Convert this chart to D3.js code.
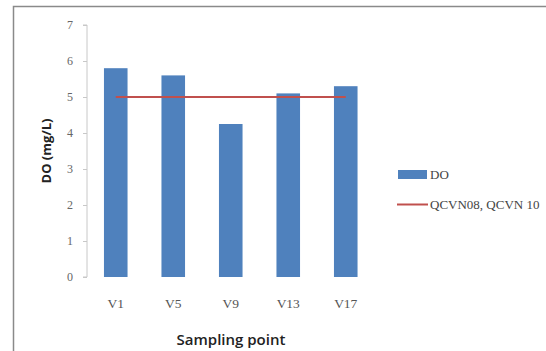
<!DOCTYPE html>
<html><head><meta charset="utf-8">
<script src="https://cdn.jsdelivr.net/npm/d3@7"></script>
<style>body{margin:0;background:#fff}svg{display:block}</style>
</head><body>
<svg id="c" width="546" height="351"></svg>
<script>
const categories = ["V1","V5","V9","V13","V17"];
const doValues = [5.8, 5.6, 4.25, 5.1, 5.3];
const standardValue = 5;
const yTicks = [0,1,2,3,4,5,6,7];
const seriesNames = ["DO","QCVN08, QCVN 10"];

const svg = d3.select("#c");
svg.append("path").attr("d","M13.5,351 V6.5 H546").attr("fill","none").attr("stroke","#8a8a8a").attr("stroke-width",1.5);

const x0 = 87, x1 = 374.5, yTop = 25, yBot = 277;
const x = d3.scaleBand().domain(categories).range([x0,x1]).paddingInner(0.59).paddingOuter(0.295);
const y = d3.scaleLinear().domain([0,7]).range([yBot,yTop]);

const yAxis = d3.axisLeft(y).tickValues(yTicks).tickSize(4).tickPadding(10).tickFormat(d3.format("d"));
const ga = svg.append("g").attr("transform",`translate(${x0},0)`).call(yAxis);
ga.select(".domain").attr("stroke","#c8c8c8").attr("d",`M-4,${yTop}H0V${yBot}H-4`);
ga.selectAll(".tick line").attr("stroke","#c8c8c8");
ga.selectAll(".tick text").attr("fill","#666").attr("font-family","Liberation Serif, serif").attr("font-size",12);

const xAxis = d3.axisBottom(x).tickSize(0).tickPadding(21);
const gx = svg.append("g").attr("transform",`translate(0,${yBot})`).call(xAxis);
gx.select(".domain").remove();
gx.selectAll(".tick text").attr("fill","#555").attr("font-family","Liberation Serif, serif").attr("font-size",13.5);

svg.append("g").selectAll("rect").data(doValues).join("rect")
  .attr("x",(d,i)=>x(categories[i])).attr("width",x.bandwidth())
  .attr("y",d=>y(d)).attr("height",d=>y(0)-y(d)).attr("fill","#4f81bd");

svg.append("line")
  .attr("x1",x(categories[0])+x.bandwidth()/2).attr("x2",x(categories[categories.length-1])+x.bandwidth()/2)
  .attr("y1",y(standardValue)).attr("y2",y(standardValue))
  .attr("stroke","#c0504d").attr("stroke-width",2);

svg.append("text").attr("transform","translate(51,151) rotate(-90)").attr("text-anchor","middle")
  .attr("font-family","Open Sans, sans-serif").attr("font-weight","bold").attr("font-size",13).attr("fill","#222").text("DO (mg/L)");
svg.append("text").attr("x",231).attr("y",345).attr("text-anchor","middle")
  .attr("font-family","Open Sans, sans-serif").attr("font-weight","600").attr("font-size",15).attr("fill","#222").text("Sampling point");

const lg = svg.append("g");
lg.append("rect").attr("x",398).attr("y",170).attr("width",29).attr("height",9).attr("fill","#4f81bd");
lg.append("text").attr("x",430).attr("y",179).attr("font-family","Liberation Serif, serif").attr("font-size",13).attr("fill","#444").text(seriesNames[0]);
lg.append("line").attr("x1",397).attr("x2",428).attr("y1",204.5).attr("y2",204.5).attr("stroke","#c0504d").attr("stroke-width",2);
lg.append("text").attr("x",430).attr("y",209).attr("font-family","Liberation Serif, serif").attr("font-size",13).attr("fill","#444").text(seriesNames[1]);
</script>
</body></html>
